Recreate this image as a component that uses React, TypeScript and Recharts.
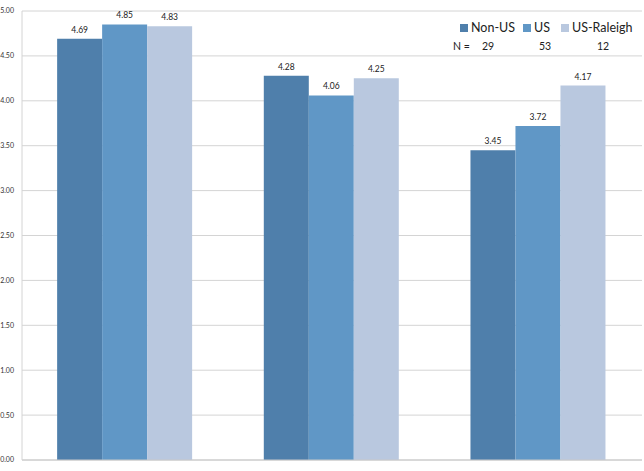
import React from 'react';
import { BarChart, Bar, XAxis, YAxis, CartesianGrid, LabelList } from 'recharts';

const categories = ['Q1', 'Q2', 'Q3'];
const nonUs = [4.69, 4.28, 3.45];
const us = [4.85, 4.06, 3.72];
const usRaleigh = [4.83, 4.25, 4.17];
const groupNames = ['Non-US', 'US', 'US-Raleigh'];
const groupCounts = [29, 53, 12];
const yTicks = [0, 0.5, 1, 1.5, 2, 2.5, 3, 3.5, 4, 4.5, 5];

const colors = ['#4f7fab', '#6097c6', '#b9c8df'];
const font = 'Lato, "Liberation Sans", Arial, sans-serif';

const data = categories.map((name, i) => ({
  name,
  nonUs: nonUs[i],
  us: us[i],
  usRaleigh: usRaleigh[i],
}));

const keys = ['nonUs', 'us', 'usRaleigh'];

// legend item and count column offsets (px)
const legendX = [460, 523, 561];
const countX = [482, 539, 597];

// legend with sample sizes, laid over the top-right corner of the plot
const LegendBox = () => (
  <div style={{ position: 'absolute', left: 0, top: 0, width: 644, whiteSpace: 'nowrap', fontFamily: font, color: '#222' }}>
    {groupNames.map((g, i) => (
      <div key={g} style={{ position: 'absolute', top: 20, left: legendX[i], display: 'flex', alignItems: 'center', fontSize: 12.5 }}>
        <span style={{ width: 8, height: 8, background: colors[i], marginRight: 3, display: 'inline-block' }} />
        {g}
      </div>
    ))}
    <span style={{ position: 'absolute', top: 40, left: 453, fontSize: 10.5 }}>N =</span>
    {groupCounts.map((n, i) => (
      <span key={i} style={{ position: 'absolute', top: 40, left: countX[i], fontSize: 10.5 }}>{n}</span>
    ))}
  </div>
);

const App = () => {
  return (
    <div style={{ position: 'absolute', left: 0, top: 0, width: 644, height: 471, background: '#fff' }}>
      <BarChart
        width={644}
        height={471}
        data={data}
        margin={{ top: 11, right: 2, bottom: 10, left: 0 }}
        barCategoryGap="17%"
        barGap={0}
      >
        <CartesianGrid vertical={false} stroke="#d4d4d4" />
        <XAxis dataKey="name" tick={false} height={1} stroke="#c8c8c8" tickLine={false} />
        <YAxis
          domain={[0, 5]}
          ticks={yTicks}
          width={22}
          axisLine={{ stroke: '#d4d4d4' }}
          tickLine={false}
          tickFormatter={(v: number) => v.toFixed(2)}
          tick={{ fontSize: 7, fill: '#333', fontFamily: font }}
          tickMargin={2}
        />
        {keys.map((k, i) => (
          <Bar key={k} dataKey={k} name={groupNames[i]} fill={colors[i]} isAnimationActive={false}>
            <LabelList
              dataKey={k}
              position="top"
              offset={6}
              formatter={(v: number) => v.toFixed(2)}
              style={{ fontSize: 8.5, fill: '#222', fontFamily: font }}
            />
          </Bar>
        ))}
      </BarChart>
      <LegendBox />
    </div>
  );
};

export default App;
